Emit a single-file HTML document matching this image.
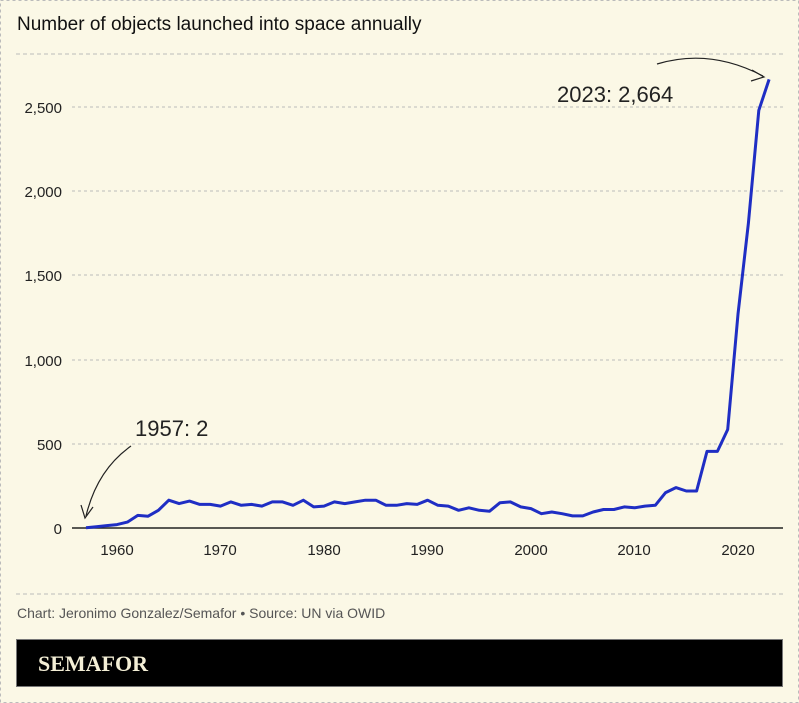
<!DOCTYPE html>
<html><head><meta charset="utf-8"><style>
body{margin:0;background:#fbf8e6;}
svg{display:block}
</style></head><body>
<svg width="799" height="703" xmlns="http://www.w3.org/2000/svg" font-family="Liberation Sans, sans-serif">
<rect x="0.5" y="0.5" width="798" height="702" fill="#fbf8e6" stroke="#bbb" stroke-dasharray="3,3"/>
<text x="17" y="30" font-size="19" fill="#111">Number of objects launched into space annually</text>
<line x1="16" y1="54" x2="783" y2="54" stroke="#bbb" stroke-dasharray="4,3"/>
<g stroke="#bbb" stroke-dasharray="3,3">
<line x1="72" y1="107" x2="783" y2="107"/>
<line x1="72" y1="191" x2="783" y2="191"/>
<line x1="72" y1="275" x2="783" y2="275"/>
<line x1="72" y1="360" x2="783" y2="360"/>
<line x1="72" y1="444" x2="783" y2="444"/>
</g>
<g font-size="15" fill="#222" text-anchor="end">
<text x="62" y="113">2,500</text><text x="62" y="197">2,000</text><text x="62" y="281">1,500</text><text x="62" y="366">1,000</text><text x="62" y="450">500</text><text x="62" y="534">0</text>
</g>
<line x1="72" y1="528" x2="783" y2="528" stroke="#222" stroke-width="1.5"/>
<g font-size="15" fill="#222" text-anchor="middle">
<text x="117" y="555">1960</text><text x="220" y="555">1970</text><text x="324" y="555">1980</text><text x="427" y="555">1990</text><text x="531" y="555">2000</text><text x="634" y="555">2010</text><text x="738" y="555">2020</text>
</g>
<polyline id="ln" fill="none" stroke="#1f2ec4" stroke-width="3" stroke-linejoin="round"/>
<text x="557" y="102" font-size="22" fill="#222">2023: 2,664</text>
<path d="M657 64 Q710 48 763 76" fill="none" stroke="#222" stroke-width="1.2"/>
<path d="M752 70 L764 77 L751 81" fill="none" stroke="#222" stroke-width="1.2"/>
<text x="135" y="436" font-size="22" fill="#222">1957: 2</text>
<path d="M131 446 Q97 470 86 516" fill="none" stroke="#222" stroke-width="1.2"/>
<path d="M81 505 L85 518 L93 507" fill="none" stroke="#222" stroke-width="1.2"/>
<line x1="16" y1="594" x2="783" y2="594" stroke="#bbb" stroke-dasharray="4,3"/>
<text x="17" y="618" font-size="14" fill="#555">Chart: Jeronimo Gonzalez/Semafor • Source: UN via OWID</text>
<rect x="16.5" y="639.5" width="766" height="47" fill="#000" stroke="#777"/>
<text x="38" y="671" font-size="22" font-weight="bold" fill="#f4efd6" style="font-family:'Liberation Serif',serif">SEMAFOR</text>
</svg>
<script>
var v=[2,8,14,20,35,75,70,105,165,145,160,140,140,130,155,135,140,130,155,155,135,165,125,130,155,145,155,165,165,135,135,145,140,165,135,130,105,120,105,100,150,155,125,115,85,95,85,72,72,95,110,110,125,120,130,135,210,240,220,220,455,455,585,1270,1810,2480,2664];
var p=v.map(function(d,i){return (86+i*10.35).toFixed(1)+","+(528-d*0.1684).toFixed(1)}).join(" ");
document.getElementById("ln").setAttribute("points",p);
</script>
</body></html>
